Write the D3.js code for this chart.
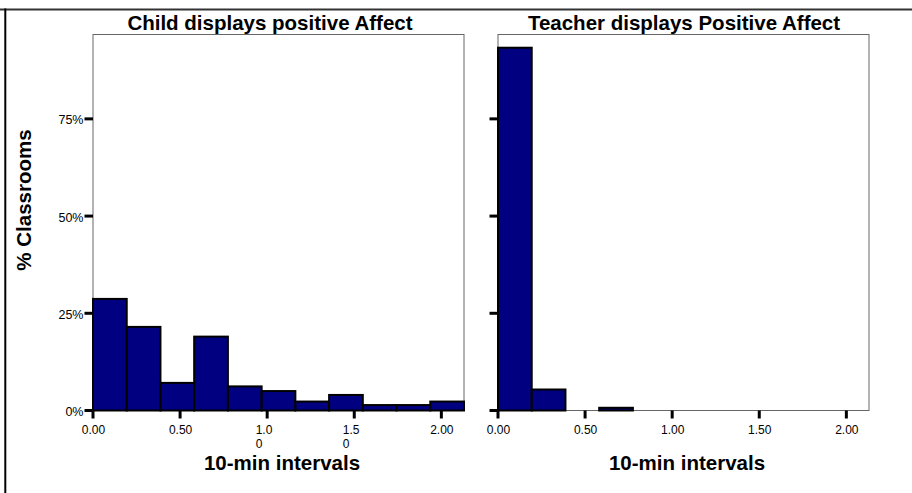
<!DOCTYPE html>
<html>
<head>
<meta charset="utf-8">
<script src="https://cdn.jsdelivr.net/npm/d3@7"></script>
<style>
  body { margin: 0; background: #fff; }
  svg { display: block; font-family: "Liberation Sans", Arial, sans-serif; }
</style>
</head>
<body>
<svg id="chart" width="912" height="493"></svg>
<script>
// ---- data ----
const binEdges = [0, 0.1936, 0.3873, 0.5809, 0.7745, 0.9682, 1.1618, 1.3555, 1.5491, 1.7427, 1.9364, 2.13];
const childValues = [28.7, 21.5, 7.1, 19.0, 6.2, 5.0, 2.3, 4.0, 1.4, 1.4, 2.3];
const teacherValues = [93.3, 5.4, 0, 0.7, 0, 0, 0, 0, 0, 0, 0];
const panelTitles = ["Child displays positive Affect", "Teacher displays Positive Affect"];
const xTickValues = [0, 0.5, 1.0, 1.5, 2.0];
const xTickLabelsLeft = [["0.00"], ["0.50"], ["1.0", "0"], ["1.5", "0"], ["2.00"]];
const xTickLabelsRight = [["0.00"], ["0.50"], ["1.00"], ["1.50"], ["2.00"]];
const yTickValues = [0, 25, 50, 75];
const yTickLabels = ["0%", "25%", "50%", "75%"];
const xAxisTitle = "10-min intervals";
const yAxisTitle = "% Classrooms";

// ---- layout ----
const svg = d3.select("#chart");
const plotTop = 34.5, plotBottom = 410.5;
const yDomainMax = 96.7;
const y = d3.scaleLinear().domain([0, yDomainMax]).range([plotBottom, plotTop]);

const panels = [
  { left: 93, right: 464, values: childValues, title: panelTitles[0], titleX: 270, xTitleX: 282, labels: xTickLabelsLeft, showYLabels: true },
  { left: 498, right: 869, values: teacherValues, title: panelTitles[1], titleX: 684, xTitleX: 687, labels: xTickLabelsRight, showYLabels: false }
];

// outer frame (left & top)
svg.append("line").attr("x1", 0).attr("x2", 912).attr("y1", 9.5).attr("y2", 9.5)
  .attr("stroke", "#333").attr("stroke-width", 2);
svg.append("line").attr("x1", 5.3).attr("x2", 5.3).attr("y1", 8.5).attr("y2", 493)
  .attr("stroke", "#000").attr("stroke-width", 2);

panels.forEach(p => {
  const x = d3.scaleLinear().domain([binEdges[0], binEdges[binEdges.length - 1]]).range([p.left, p.right]);
  const g = svg.append("g");

  // plot frame
  g.append("rect").attr("x", p.left).attr("y", plotTop).attr("width", p.right - p.left).attr("height", plotBottom - plotTop)
    .attr("fill", "none").attr("stroke", "#666").attr("stroke-width", 1);

  // bars
  const bins = p.values.map((v, i) => ({ x0: binEdges[i], x1: binEdges[i + 1], v }));
  g.selectAll("rect.bar").data(bins.filter(d => d.v > 0)).join("rect")
    .attr("class", "bar")
    .attr("x", d => x(d.x0))
    .attr("width", d => x(d.x1) - x(d.x0))
    .attr("y", d => y(d.v))
    .attr("height", d => y(0) - y(d.v))
    .attr("fill", "#000080")
    .attr("stroke", "#000")
    .attr("stroke-width", 2);

  // y ticks
  g.selectAll("line.ytick").data(yTickValues).join("line")
    .attr("class", "ytick")
    .attr("x1", p.left - 8.5).attr("x2", p.left)
    .attr("y1", d => y(d)).attr("y2", d => y(d))
    .attr("stroke", "#000").attr("stroke-width", 3);
  if (p.showYLabels) {
    g.selectAll("text.ylab").data(yTickValues).join("text")
      .attr("class", "ylab")
      .attr("x", p.left - 9.5).attr("y", d => y(d) + 5.5)
      .attr("text-anchor", "end").attr("font-size", 12.5).attr("fill", "#000")
      .text((d, i) => yTickLabels[i]);
  }

  // x ticks
  g.selectAll("line.xtick").data(xTickValues).join("line")
    .attr("class", "xtick")
    .attr("x1", d => x(d)).attr("x2", d => x(d))
    .attr("y1", plotBottom).attr("y2", plotBottom + 8)
    .attr("stroke", "#000").attr("stroke-width", 3);
  const xl = g.selectAll("text.xlab").data(xTickValues).join("text")
    .attr("class", "xlab")
    .attr("font-size", 12).attr("fill", "#000");
  xl.each(function (d, i) {
    const lines = p.labels[i];
    const t = d3.select(this);
    if (lines.length === 1) {
      t.attr("x", x(d) + 0.5).attr("y", 433.5).attr("text-anchor", "middle").text(lines[0]);
    } else {
      t.attr("text-anchor", "start");
      lines.forEach((ln, j) => {
        t.append("tspan").attr("x", x(d) - 11.5).attr("y", 433.5 + j * 14).text(ln);
      });
    }
  });

  // titles
  g.append("text").attr("x", p.titleX).attr("y", 30).attr("text-anchor", "middle")
    .attr("font-size", 20.5).attr("font-weight", "bold").attr("fill", "#000").text(p.title);
  g.append("text").attr("x", p.xTitleX).attr("y", 469.5).attr("text-anchor", "middle")
    .attr("font-size", 20.5).attr("font-weight", "bold").attr("fill", "#000").text(xAxisTitle);
});

// y axis title
svg.append("text").attr("transform", "translate(31,200) rotate(-90)")
  .attr("text-anchor", "middle").attr("font-size", 20.5).attr("font-weight", "bold").attr("fill", "#000")
  .text(yAxisTitle);
</script>
</body>
</html>
